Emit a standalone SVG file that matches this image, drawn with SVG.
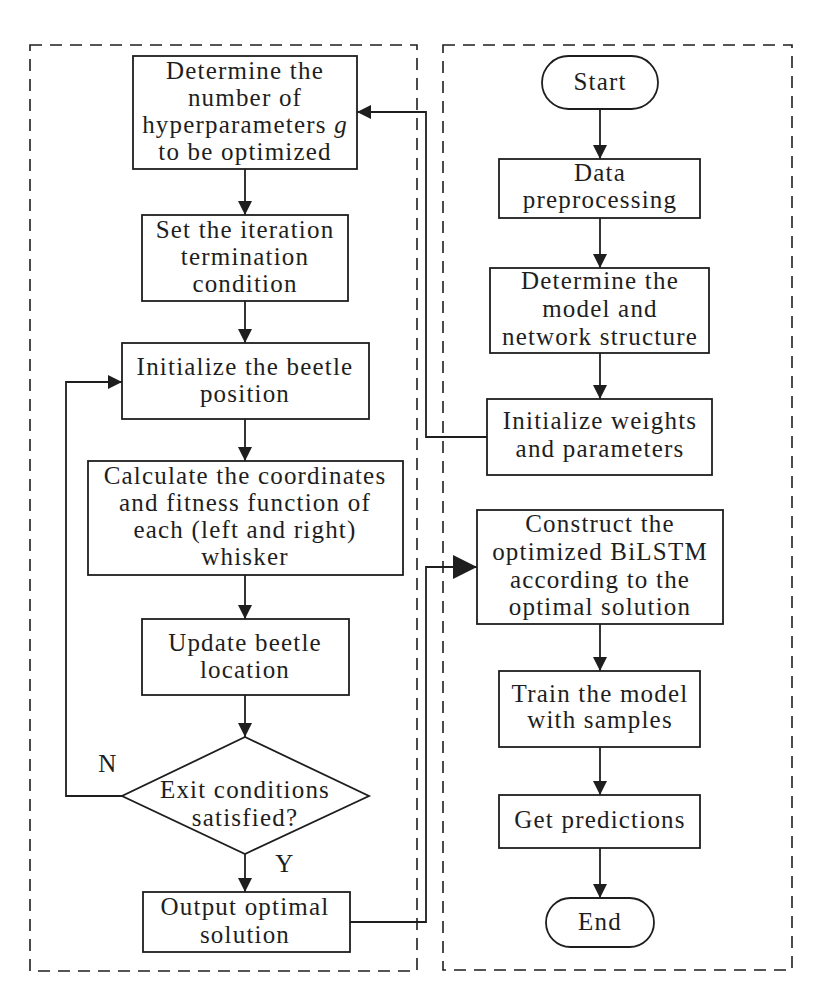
<svg xmlns="http://www.w3.org/2000/svg" width="814" height="988" viewBox="0 0 814 988">
<style>
.b{fill:#fff;stroke:#1e1e1e;stroke-width:1.8}
.d{fill:none;stroke:#1e1e1e;stroke-width:1.6;stroke-dasharray:12 8}
.c{fill:none;stroke:#1e1e1e;stroke-width:1.8}
text{font-family:"Liberation Serif","Times New Roman",serif;font-size:25px;fill:#1e1e1e;text-anchor:middle;letter-spacing:1.2px}
</style>
<defs>
<marker id="a" viewBox="0 0 14 14" refX="14" refY="7" markerWidth="14" markerHeight="14" markerUnits="userSpaceOnUse" orient="auto"><path d="M0,0 L14,7 L0,14 Z" fill="#1e1e1e"/></marker>
<marker id="A" viewBox="0 0 24 24" refX="24" refY="12" markerWidth="24" markerHeight="24" markerUnits="userSpaceOnUse" orient="auto"><path d="M0,0 L24,12 L0,24 Z" fill="#1e1e1e"/></marker>
</defs>
<rect class="d" x="30" y="45" width="387" height="926"/>
<rect class="d" x="443" y="45" width="349" height="925"/>
<g id="connectors">
<path class="c" d="M245,169 V215" marker-end="url(#a)"/>
<path class="c" d="M245,301 V343" marker-end="url(#a)"/>
<path class="c" d="M245,419 V461" marker-end="url(#a)"/>
<path class="c" d="M245,575 V619" marker-end="url(#a)"/>
<path class="c" d="M245,695 V737" marker-end="url(#a)"/>
<path class="c" d="M245,854 V892" marker-end="url(#a)"/>
<path class="c" d="M122,796 H66 V382 H122" marker-end="url(#a)"/>
<path class="c" d="M350,922 H426 V567 H477" marker-end="url(#A)"/>
<path class="c" d="M487,437 H426 V112 H357" marker-end="url(#a)"/>
<path class="c" d="M600,109 V159" marker-end="url(#a)"/>
<path class="c" d="M600,218 V268" marker-end="url(#a)"/>
<path class="c" d="M600,353 V399" marker-end="url(#a)"/>
<path class="c" d="M600,624 V671" marker-end="url(#a)"/>
<path class="c" d="M600,747 V795" marker-end="url(#a)"/>
<path class="c" d="M600,848 V898" marker-end="url(#a)"/>
</g>
<g id="n1"><rect class="b" x="133" y="56" width="224" height="113"/>
<text x="245" y="79">Determine the</text><text x="245" y="106">number of</text><text x="245" y="133">hyperparameters <tspan font-style="italic">g</tspan></text><text x="245" y="160">to be optimized</text></g>
<g id="n2"><rect class="b" x="142" y="215" width="206" height="86"/>
<text x="245" y="238">Set the iteration</text><text x="245" y="265">termination</text><text x="245" y="292">condition</text></g>
<g id="n3"><rect class="b" x="122" y="343" width="247" height="76"/>
<text x="245" y="375">Initialize the beetle</text><text x="245" y="402">position</text></g>
<g id="n4"><rect class="b" x="88" y="461" width="315" height="114"/>
<text x="245" y="484">Calculate the coordinates</text><text x="245" y="511">and fitness function of</text><text x="245" y="538">each (left and right)</text><text x="245" y="565">whisker</text></g>
<g id="n5"><rect class="b" x="142" y="619" width="207" height="76"/>
<text x="245" y="651">Update beetle</text><text x="245" y="678">location</text></g>
<g id="n6"><path class="b" d="M245,737 L369,796 L245,854 L122,796 Z"/>
<text x="245" y="798">Exit conditions</text><text x="245" y="826">satisfied?</text></g>
<g id="n7"><rect class="b" x="143" y="892" width="207" height="60"/>
<text x="245" y="915">Output optimal</text><text x="245" y="943">solution</text></g>
<text x="108" y="772">N</text>
<text x="285" y="872">Y</text>
<g id="r1"><rect class="b" x="542" y="56" width="116" height="53" rx="26.5"/>
<text x="600" y="90">Start</text></g>
<g id="r2"><rect class="b" x="499" y="159" width="201" height="59"/>
<text x="600" y="181">Data</text><text x="600" y="208">preprocessing</text></g>
<g id="r3"><rect class="b" x="490" y="268" width="219" height="85"/>
<text x="600" y="289">Determine the</text><text x="600" y="317">model and</text><text x="600" y="345">network structure</text></g>
<g id="r4"><rect class="b" x="487" y="399" width="225" height="76"/>
<text x="600" y="429">Initialize weights</text><text x="600" y="457">and parameters</text></g>
<g id="r5"><rect class="b" x="477" y="510" width="246" height="114"/>
<text x="600" y="532">Construct the</text><text x="600" y="560">optimized BiLSTM</text><text x="600" y="588">according to the</text><text x="600" y="615">optimal solution</text></g>
<g id="r6"><rect class="b" x="499" y="671" width="201" height="76"/>
<text x="600" y="702">Train the model</text><text x="600" y="728">with samples</text></g>
<g id="r7"><rect class="b" x="499" y="795" width="201" height="53"/>
<text x="600" y="828">Get predictions</text></g>
<g id="r8"><rect class="b" x="546" y="898" width="108" height="49" rx="24.5"/>
<text x="600" y="930">End</text></g>
</svg>
